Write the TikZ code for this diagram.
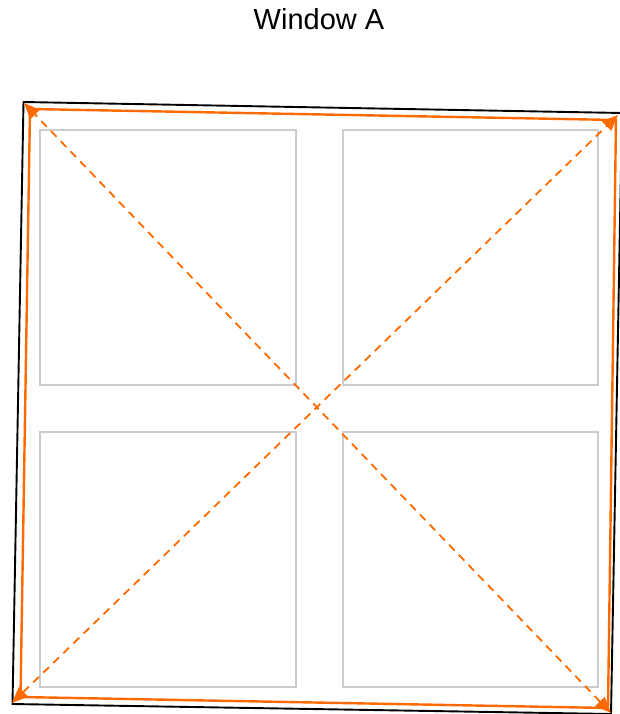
\documentclass[tikz,border=0pt]{standalone}
\usepackage{fontspec}
\setmainfont{Liberation Sans}
\usepackage{xcolor}
\definecolor{colWin}{HTML}{FF6A00}
\definecolor{colPane}{HTML}{CCCCCC}
\usetikzlibrary{arrows.meta, positioning, calc}

\begin{document}
\begin{tikzpicture}[
		x=1pt, y=-1pt,
		panebox/.style={draw=colPane, line width=1.8pt},
		framequad/.style={draw=black, line width=1.9pt},
		detquad/.style={draw=colWin, line width=2.4pt},
		diagarr/.style={{Triangle[length=16pt,width=13pt]}-{Triangle[length=16pt,width=13pt]},
			colWin, line width=1.8pt, dash pattern=on 8pt off 6pt},
		>=Stealth
	]
		\useasboundingbox (0,0) rectangle (619,714);

		\node[font=\fontsize{29}{34}\selectfont] (title) at (319,19) {Window A};

		% Four panes of the window
		\draw[panebox] (40,130) rectangle (296,385);
		\draw[panebox] (343,130) rectangle (598,385);
		\draw[panebox] (40,432) rectangle (296,687);
		\draw[panebox] (343,432) rectangle (598,687);

		% Outer frame, slightly rotated
		\coordinate (fTL) at (23.5,102);
		\coordinate (fTR) at (622,113);
		\coordinate (fBR) at (611,714);
		\coordinate (fBL) at (12.5,704);
		\draw[framequad] (fTL) -- (fTR) -- (fBR) -- (fBL) -- cycle;

		% Detected quad
		\coordinate (dTL) at (30,109);
		\coordinate (dTR) at (616,120);
		\coordinate (dBR) at (608,708);
		\coordinate (dBL) at (20.5,697);
		\draw[detquad] (dTL) -- (dTR) -- (dBR) -- (dBL) -- cycle;

		% Diagonals with corner tips
		\coordinate (aTL) at (24,103);
		\coordinate (aTR) at (618,115);
		\coordinate (aBR) at (611,713);
		\coordinate (aBL) at (12,703);
		\draw[diagarr] (aBR) -- (aTL);
		\draw[diagarr] (aBL) -- (aTR);
	\end{tikzpicture}
\end{document}
